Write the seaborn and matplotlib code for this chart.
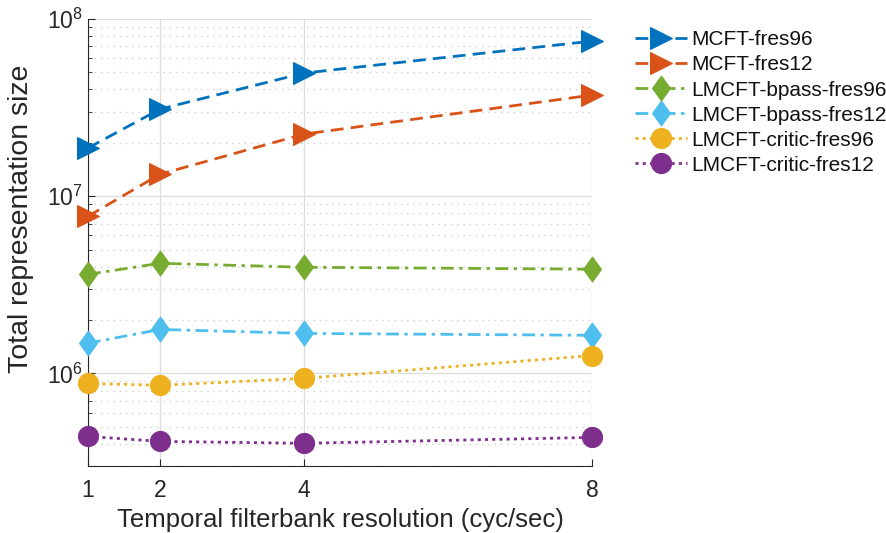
import numpy as np
import pandas as pd
import matplotlib
matplotlib.use("Agg")
import matplotlib.pyplot as plt
import seaborn as sns
from matplotlib.ticker import LogLocator, LogFormatterMathtext, NullFormatter

# ---- data ----
resolution = [1, 2, 4, 8]
series_names = ["MCFT-fres96", "MCFT-fres12", "LMCFT-bpass-fres96",
                "LMCFT-bpass-fres12", "LMCFT-critic-fres96", "LMCFT-critic-fres12"]
mcft_fres96 = [1.87e7, 3.10e7, 4.95e7, 7.50e7]
mcft_fres12 = [7.7e6, 1.33e7, 2.24e7, 3.72e7]
bpass_fres96 = [3.62e6, 4.18e6, 3.97e6, 3.87e6]
bpass_fres12 = [1.48e6, 1.77e6, 1.68e6, 1.64e6]
critic_fres96 = [8.78e5, 8.56e5, 9.37e5, 1.26e6]
critic_fres12 = [4.41e5, 4.13e5, 4.03e5, 4.35e5]
values = [mcft_fres96, mcft_fres12, bpass_fres96, bpass_fres12, critic_fres96, critic_fres12]
xtick_labels = ["1", "2", "4", "8"]

diamond = [(0, 1), (0.72, 0), (0, -1), (-0.72, 0), (0, 1)]
colors = ["#0072BD", "#D95319", "#77AC30", "#4DBEEE", "#EDB120", "#7E2F8E"]
markers = [">", ">", diamond, diamond, "o", "o"]
msizes = [16, 16, 18, 18, 14.5, 14.5]
dashes = [(4.6, 2.6), (4.6, 2.6), (4.6, 2.0, 1.2, 2.0), (4.6, 2.0, 1.2, 2.0), (1.1, 1.5), (1.1, 1.5)]

sns.set_theme(style="white")
plt.rcParams["font.family"] = ["Liberation Sans", "DejaVu Sans"]
plt.rcParams["mathtext.fontset"] = "custom"
plt.rcParams["mathtext.rm"] = "Liberation Sans"
plt.rcParams["mathtext.it"] = "Liberation Sans:italic"

fig = plt.figure(figsize=(8.87, 5.33), dpi=100)
ax = fig.add_axes([0.0992, 0.1257, 0.5682, 0.8387])

series_lines = []
for name, vals, c, m, ms, d in zip(series_names, values, colors, markers, msizes, dashes):
    df = pd.DataFrame({"x": resolution, "y": vals})
    sns.lineplot(data=df, x="x", y="y", ax=ax, color=c, marker=m, markersize=ms,
                 markeredgecolor=c, markerfacecolor=c, linewidth=2.0,
                 dashes=False, linestyle=(0, d), zorder=3)
    ln = ax.lines[-1]
    ln.set_dashes(d)
    ln.set_clip_on(False)
    series_lines.append(ln)

ax.set_yscale("log")
ax.set_ylim(3e5, 1e8)
ax.set_xlim(1, 8)
ax.set_xticks(resolution)
ax.set_xticklabels(xtick_labels)
ax.yaxis.set_major_locator(LogLocator(base=10, numticks=10))
ax.yaxis.set_major_formatter(LogFormatterMathtext())
ax.yaxis.set_minor_locator(LogLocator(base=10, subs=np.arange(2, 10), numticks=20))
ax.yaxis.set_minor_formatter(NullFormatter())

ax.grid(True, which="major", axis="both", color="#dcdcdc", linewidth=0.9, linestyle="-", zorder=0)
ax.grid(True, which="minor", axis="y", color="#c8c8c8", linewidth=0.9, linestyle=(0, (1, 4)), zorder=0)
ax.set_axisbelow(True)

for s in ["top", "right"]:
    ax.spines[s].set_visible(False)
for s in ["left", "bottom"]:
    ax.spines[s].set_color("#262626")
    ax.spines[s].set_linewidth(0.8)

ax.tick_params(axis="both", which="major", direction="in", length=5, width=0.8,
               colors="#262626", labelsize=16.5, left=True, bottom=True)
ax.tick_params(axis="y", which="minor", direction="in", length=3, width=0.6,
               colors="#262626", left=True)
ax.tick_params(axis="x", pad=9)
ax.tick_params(axis="y", pad=4)

ax.set_xlabel("Temporal filterbank resolution (cyc/sec)", fontsize=18.5, color="#262626", labelpad=5)
ax.set_ylabel("Total representation size", fontsize=20.5, color="#262626")
ax.yaxis.set_label_coords(-0.108, 0.553)

leg = ax.legend(handles=series_lines, labels=series_names, loc="upper left",
                bbox_to_anchor=(1.069, 0.993), frameon=False,
                fontsize=15, handlelength=2.5, handletextpad=0.2, labelspacing=0.29,
                borderaxespad=0, borderpad=0.4)
for t in leg.get_texts():
    t.set_color("#111111")

fig.savefig("out.png", dpi=100)
